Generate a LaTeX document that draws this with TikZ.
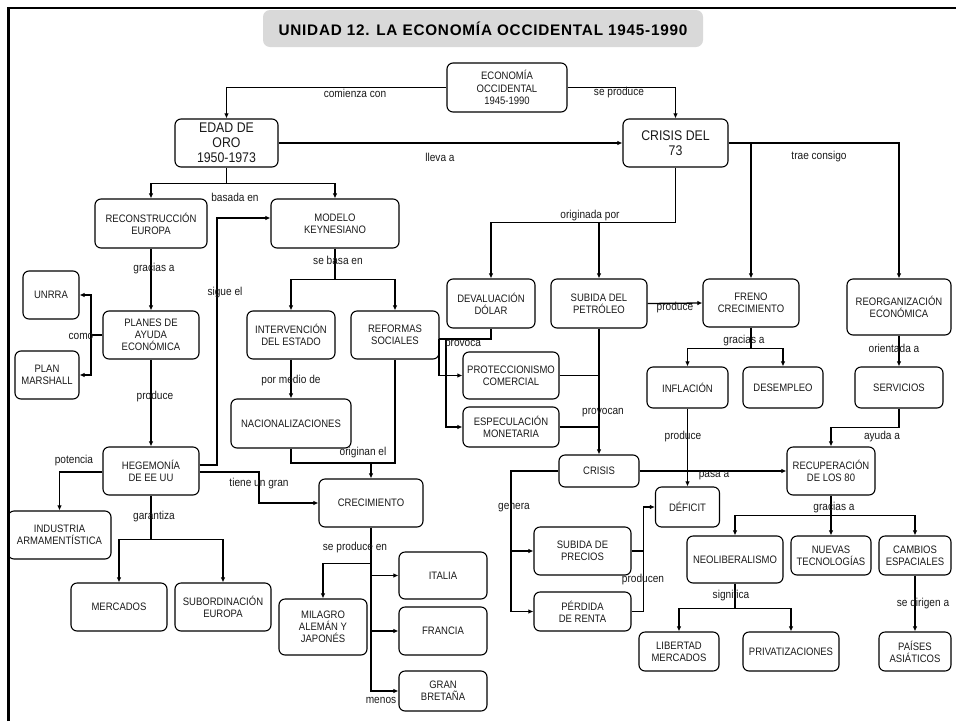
\documentclass[tikz,border=0pt]{standalone}
\usepackage{fontspec}
\setmainfont[FakeStretch=0.88]{Liberation Sans}
\newfontfamily\titlefont[LetterSpace=5]{Liberation Sans}
\usetikzlibrary{arrows.meta,calc}
\definecolor{titlegray}{RGB}{217,217,217}
\definecolor{txt}{RGB}{25,25,25}
\tikzset{
 box/.style={draw, rounded corners=6pt, line width=1.1pt, align=center, inner sep=0pt, text=txt, font=\fontsize{10.8}{12.2}\selectfont},
 bigbox/.style={box, font=\fontsize{14}{15.2}\selectfont},
 lbl/.style={inner sep=0pt, text=txt, font=\fontsize{11.5}{13}\selectfont},
 con/.style={line width=1.3pt},
 arr/.style={con, -{Latex[length=5pt,width=4.5pt]}},
}
\begin{document}
\begin{tikzpicture}[x=1pt,y=-1pt]
\useasboundingbox (0,0) rectangle (956,721);
% frame
\draw[line width=2.5pt] (8.5,721) -- (8.5,8) -- (956,8);
% title
\node[fill=titlegray, rounded corners=7pt, minimum width=440, minimum height=37, inner sep=0pt, font=\titlefont\fontsize{15.3}{18}\selectfont\bfseries] (title) at (483,28.5) {UNIDAD 12. LA ECONOMÍA OCCIDENTAL 1945-1990};

% nodes
\node[box, minimum width=120, minimum height=49] (eco) at (507,87.5) {ECONOMÍA\\OCCIDENTAL\\1945-1990};
\node[bigbox, minimum width=103, minimum height=48] (edad) at (226.5,143) {EDAD DE\\ORO\\1950-1973};
\node[bigbox, minimum width=105, minimum height=48] (c73) at (675.5,143) {CRISIS DEL\\73};
\node[box, minimum width=112, minimum height=49] (reco) at (151,223.5) {RECONSTRUCCIÓN\\EUROPA};
\node[box, minimum width=128, minimum height=49] (keyn) at (335,223.5) {MODELO\\KEYNESIANO};
\node[box, minimum width=56, minimum height=48] (unrra) at (51,295) {UNRRA};
\node[box, minimum width=96, minimum height=48] (planes) at (151,335) {PLANES DE\\AYUDA\\ECONÓMICA};
\node[box, minimum width=64, minimum height=48] (marsh) at (47,375) {PLAN\\MARSHALL};
\node[box, minimum width=88, minimum height=48] (inter) at (291,335) {INTERVENCIÓN\\DEL ESTADO};
\node[box, minimum width=88, minimum height=48] (refo) at (395,335) {REFORMAS\\SOCIALES};
\node[box, minimum width=120, minimum height=49] (nac) at (291,423.5) {NACIONALIZACIONES};
\node[box, minimum width=88, minimum height=49] (deva) at (491,303.5) {DEVALUACIÓN\\DÓLAR};
\node[box, minimum width=96, minimum height=49] (subp) at (599,303.5) {SUBIDA DEL\\PETRÓLEO};
\node[box, minimum width=96, minimum height=47] (prot) at (511,375.5) {PROTECCIONISMO\\COMERCIAL};
\node[box, minimum width=96, minimum height=40] (espe) at (511,427) {ESPECULACIÓN\\MONETARIA};
\node[box, minimum width=80, minimum height=32] (crisis) at (599,471) {CRISIS};
\node[box, minimum width=96, minimum height=48] (freno) at (751,303) {FRENO\\CRECIMIENTO};
\node[box, minimum width=104, minimum height=56] (reor) at (899,307) {REORGANIZACIÓN\\ECONÓMICA};
\node[box, minimum width=81, minimum height=41] (infl) at (687.5,387.5) {INFLACIÓN};
\node[box, minimum width=80, minimum height=41] (desem) at (783,387.5) {DESEMPLEO};
\node[box, minimum width=88, minimum height=41] (serv) at (899,387.5) {SERVICIOS};
\node[box, minimum width=88, minimum height=48] (recu) at (831,471) {RECUPERACIÓN\\DE LOS 80};
\node[box, minimum width=64, minimum height=40] (defi) at (687.5,507) {DÉFICIT};
\node[box, minimum width=97, minimum height=48] (subpr) at (582.5,551) {SUBIDA DE\\PRECIOS};
\node[box, minimum width=97, minimum height=39] (perd) at (582.5,611.5) {PÉRDIDA\\DE RENTA};
\node[box, minimum width=96, minimum height=47] (neo) at (735,559.5) {NEOLIBERALISMO};
\node[box, minimum width=80, minimum height=39] (nuev) at (831,555.5) {NUEVAS\\TECNOLOGÍAS};
\node[box, minimum width=72, minimum height=39] (camb) at (915,555.5) {CAMBIOS\\ESPACIALES};
\node[box, minimum width=80, minimum height=39] (lib) at (679,651.5) {LIBERTAD\\MERCADOS};
\node[box, minimum width=96, minimum height=39] (priv) at (791,651.5) {PRIVATIZACIONES};
\node[box, minimum width=72, minimum height=39] (pais) at (915,651.5) {PAÍSES\\ASIÁTICOS};
\node[box, minimum width=96, minimum height=48] (hege) at (151,471) {HEGEMONÍA\\DE EE UU};
\node[box, minimum width=103, minimum height=48] (indus) at (59.5,535) {INDUSTRIA\\ARMAMENTÍSTICA};
\node[box, minimum width=96, minimum height=48] (merc) at (119,607) {MERCADOS};
\node[box, minimum width=96, minimum height=48] (subo) at (223,607) {SUBORDINACIÓN\\EUROPA};
\node[box, minimum width=104, minimum height=48] (crec) at (371,503) {CRECIMIENTO};
\node[box, minimum width=88, minimum height=56] (mil) at (323,627) {MILAGRO\\ALEMÁN Y\\JAPONÉS};
\node[box, minimum width=88, minimum height=47] (ital) at (443,575.5) {ITALIA};
\node[box, minimum width=88, minimum height=48] (fran) at (443,631) {FRANCIA};
\node[box, minimum width=88, minimum height=40] (gb) at (443,691) {GRAN\\BRETAÑA};

% connectors
\draw[arr] (eco.west) -| (edad.north);
\draw[arr] (eco.east) -| (c73.north);
\draw[arr] (edad.east) -- (c73.west);
\draw[con] (edad.south) -- ++(0,16) coordinate (b1);
\draw[arr] (b1) -| (reco.north);
\draw[arr] (b1) -| (keyn.north);
\draw[arr] (reco) -- (planes);
\coordinate (como) at (91,335);
\draw[con] (planes.west) -- (como);
\draw[arr] (como) |- (unrra.east);
\draw[arr] (como) |- (marsh.east);
\draw[arr] (planes) -- (hege);
\draw[arr] ($(hege.east)+(0,-6)$) -| (217,300) |- ($(keyn.west)+(0,-5.5)$);
\draw[con] (keyn.south) -- ++(0,31) coordinate (b2);
\draw[arr] (b2) -| (inter.north);
\draw[arr] (b2) -| (refo.north);
\draw[arr] (inter) -- (nac);
\draw[con] (nac.south) |- (395,463) -- (refo.south);
\draw[arr] ($(crec.north)+(0,-16)$) -- (crec.north);
\draw[arr] ($(hege.east)+(0,1)$) -| (259,490) |- (crec.west);
\draw[arr] ($(hege.west)+(0,1)$) -| (indus.north);
\draw[con] (hege.south) -- ++(0,44) coordinate (b3);
\draw[arr] (b3) -| (merc.north);
\draw[arr] (b3) -| (subo.north);
\draw[arr] (crec.south) |- (gb.west);
\draw[arr] (crec.south |- ital.west) -- (ital.west);
\draw[arr] (crec.south |- fran.west) -- (fran.west);
\draw[arr] ($(crec.south)+(0,36)$) -| (mil.north);
\draw[con] (c73.south) |- ($(deva.north)+(0,-56)$);
\draw[arr] ($(deva.north)+(0,-56)$) -- (deva.north);
\draw[arr] ($(subp.north)+(0,-56)$) -- (subp.north);
\draw[arr] (c73.east) -| (reor.north);
\draw[arr] (freno.north |- c73.east) -- (freno.north);
\draw[arr] (subp.east) -- (freno.west);
\draw[con] (freno.south) -- ++(0,21) coordinate (b4);
\draw[arr] (b4) -| (infl.north);
\draw[arr] (b4) -| (desem.north);
\draw[arr] (reor) -- (serv);
\draw[arr] (serv.south) -- ++(0,19) -| (recu.north);
\coordinate (p1) at (439,339);
\coordinate (p2) at (446,339);
\draw[con] (deva.south) |- (p1);
\draw[arr] (p1) |- (prot.west);
\draw[arr] (p2) |- (espe.west);
\draw[arr] (subp) -- (crisis);
\draw[con] (prot.east) -- (subp.south |- prot.east);
\draw[con] (espe.east) -- (subp.south |- espe.east);
\draw[arr] (infl.south) -- (defi.north);
\draw[arr] (crisis.east) -- (recu.west);
\coordinate (gen) at (511,471);
\draw[arr] (crisis.west) -- (gen) |- (perd.west);
\draw[arr] (gen |- subpr.west) -- (subpr.west);
\draw[arr] (perd.east) -- ++(12,0) |- (defi.west);
\draw[con] (subpr.east) -- ++(12,0);
\draw[con] (recu.south) -- ++(0,20) coordinate (b5);
\draw[arr] (b5) -| (neo.north);
\draw[arr] (b5) -| (nuev.north);
\draw[arr] (b5) -| (camb.north);
\draw[con] (neo.south) -- ++(0,25) coordinate (b6);
\draw[arr] (b6) -| (lib.north);
\draw[arr] (b6) -| (priv.north);
\draw[arr] (camb) -- (pais);

% labels
\node[lbl] (l1) at (355,93) {comienza con};
\node[lbl] (l2) at (619,93) {se produce};
\node[lbl] (l3) at (440,157) {lleva a};
\node[lbl] (l4) at (235,197) {basada en};
\node[lbl] (l5) at (154,269) {gracias a};
\node[lbl] (l6) at (81,336) {como};
\node[lbl] (l7) at (155,397) {produce};
\node[lbl] (l8) at (225,293) {sigue el};
\node[lbl] (l9) at (338,260) {se basa en};
\node[lbl] (l10) at (291,381) {por medio de};
\node[lbl] (l11) at (363,453) {originan el};
\node[lbl] (l12) at (259,484) {tiene un gran};
\node[lbl] (l13) at (74,461) {potencia};
\node[lbl] (l14) at (154,517) {garantiza};
\node[lbl] (l15) at (355,548) {se produce en};
\node[lbl] (l16) at (381,700) {menos};
\node[lbl] (l17) at (590,216) {originada por};
\node[lbl] (l18) at (819,157) {trae consigo};
\node[lbl] (l19) at (675,308) {produce};
\node[lbl] (l20) at (744,341) {gracias a};
\node[lbl] (l21) at (894,348) {orientada a};
\node[lbl] (l22) at (882,437) {ayuda a};
\node[lbl] (l23) at (463,345) {provoca};
\node[lbl] (l24) at (603,413) {provocan};
\node[lbl] (l25) at (683,437) {produce};
\node[lbl] (l26) at (714,476) {pasa a};
\node[lbl] (l27) at (514,508) {genera};
\node[lbl] (l28) at (643,580) {producen};
\node[lbl] (l29) at (834,508) {gracias a};
\node[lbl] (l30) at (731,596) {significa};
\node[lbl] (l31) at (923,604) {se dirigen a};
\end{tikzpicture}
\end{document}
